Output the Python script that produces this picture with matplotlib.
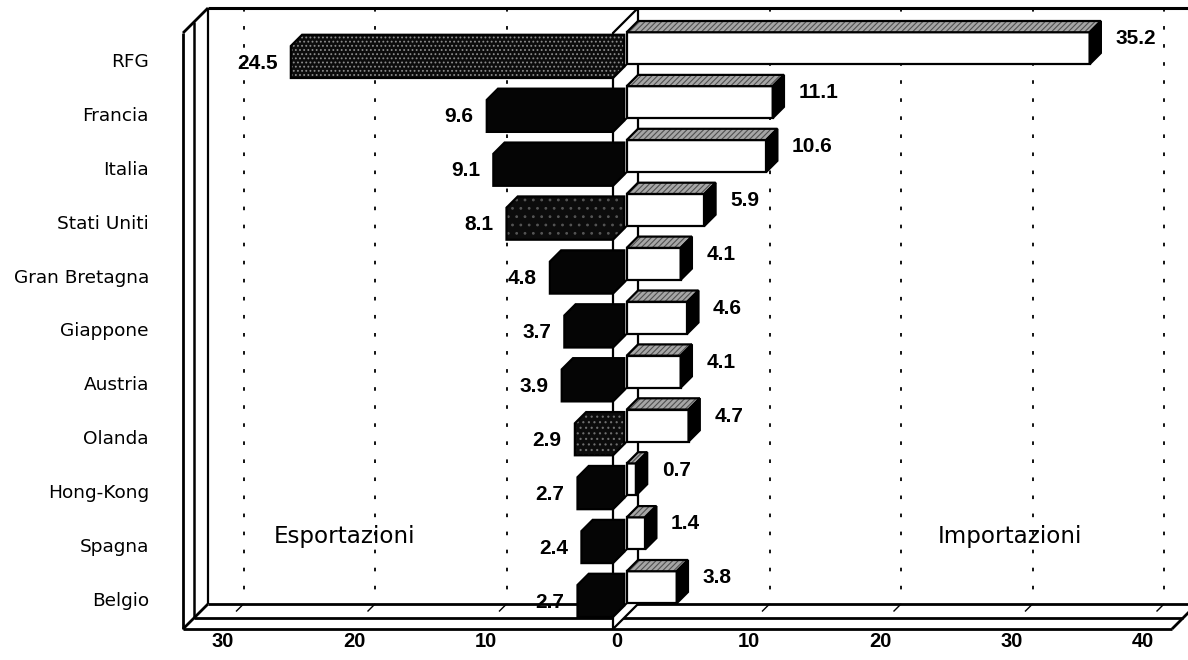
import matplotlib
matplotlib.use("Agg")
import matplotlib.pyplot as plt
from matplotlib.patches import Polygon

# --- data -------------------------------------------------------------
paesi = ["RFG", "Francia", "Italia", "Stati Uniti", "Gran Bretagna", "Giappone",
         "Austria", "Olanda", "Hong-Kong", "Spagna", "Belgio"]
esportazioni = [24.5, 9.6, 9.1, 8.1, 4.8, 3.7, 3.9, 2.9, 2.7, 2.4, 2.7]
importazioni = [35.2, 11.1, 10.6, 5.9, 4.1, 4.6, 4.1, 4.7, 0.7, 1.4, 3.8]
tick_valori = [-30, -20, -10, 0, 10, 20, 30, 40]
tick_etichette = ["30", "20", "10", "0", "10", "20", "30", "40"]

# --- geometry of the oblique 3D box -------------------------------------
W, H = 1188, 660
PX_UNIT = 13.15       # pixels per value unit
X0_PX = 613           # pixel of value 0 on the front plane
ROW0_PX, ROW_PX = 62, 53.9
DX = 25 / PX_UNIT     # depth shift (x) for full depth
DY = 25 / ROW_PX      # depth shift (rows) for full depth
BAR_H = 32 / ROW_PX
Z_EXP = 0.45          # export boxes: depth 0 .. Z_EXP
Z_IMP = 0.55          # import boxes: depth Z_IMP .. 1
X_LEFT = (183 - X0_PX) / PX_UNIT
X_RIGHT = (1172 - X0_PX) / PX_UNIT
Y_TOP = (33 - ROW0_PX) / ROW_PX
Y_FLOOR = (629 - ROW0_PX) / ROW_PX

LW = 1.6


def P(x, y, z):
    return (x + z * DX, y - z * DY)


def poly(ax, pts, fc, ec="black", lw=LW, hatch=None, hc=None, z=3):
    xy = [P(*p) for p in pts]
    if hatch:
        ax.add_patch(Polygon(xy, closed=True, facecolor=fc, edgecolor=hc,
                             linewidth=0, hatch=hatch, zorder=z))
        ax.add_patch(Polygon(xy, closed=True, facecolor="none", edgecolor=ec,
                             linewidth=lw, zorder=z, joinstyle="miter"))
    else:
        ax.add_patch(Polygon(xy, closed=True, facecolor=fc, edgecolor=ec,
                             linewidth=lw, zorder=z, joinstyle="miter"))


def line(ax, a, b, lw=LW, z=2, **kw):
    pa, pb = P(*a), P(*b)
    ax.plot([pa[0], pb[0]], [pa[1], pb[1]], color="black", lw=lw, zorder=z,
            solid_capstyle="butt", **kw)


plt.rcParams["hatch.linewidth"] = 0.8
fig = plt.figure(figsize=(W / 100, H / 100), dpi=100)
ax = fig.add_axes([0, 0, 1, 1])
ax.set_xlim(-X0_PX / PX_UNIT, (W - X0_PX) / PX_UNIT)
ax.set_ylim((H - ROW0_PX) / ROW_PX, -ROW0_PX / ROW_PX)
ax.axis("off")

# back-wall grid
for v in tick_valori:
    if v == 0:
        continue
    a, b = P(v, Y_TOP, 1), P(v, Y_FLOOR, 1)
    ax.plot([a[0], b[0]], [a[1], b[1]], color="black", lw=1.3,
            linestyle=(0, (2, 8)), zorder=1)
    line(ax, (v, Y_FLOOR, 1), (v, Y_FLOOR, 0.7), lw=1.0, z=2)

# back wall top edge and left edge
line(ax, (X_LEFT, Y_TOP, 1), (X_RIGHT + 2, Y_TOP, 1), lw=2.2)
line(ax, (X_LEFT, Y_TOP, 1), (X_LEFT, Y_FLOOR, 1), lw=1.6)

# left wall
line(ax, (X_LEFT, Y_TOP, 0), (X_LEFT, Y_FLOOR, 0), lw=2.0)
line(ax, (X_LEFT, Y_TOP, Z_EXP), (X_LEFT, Y_FLOOR, Z_EXP), lw=1.8)
line(ax, (X_LEFT, Y_TOP, 0), (X_LEFT, Y_TOP, 1), lw=2.0)

# floor
for zz in (0, Z_EXP, 1):
    line(ax, (X_LEFT, Y_FLOOR, zz), (X_RIGHT, Y_FLOOR, zz), lw=2.0)
line(ax, (X_LEFT, Y_FLOOR, 0), (X_LEFT, Y_FLOOR, 1), lw=2.0)
line(ax, (X_RIGHT, Y_FLOOR, 0), (X_RIGHT, Y_FLOOR, 1), lw=2.0)

# dividing wall at zero
poly(ax, [(0, Y_TOP, 0), (0, Y_TOP, 1), (0, Y_FLOOR, 1), (0, Y_FLOOR, 0)],
     fc="white", lw=1.6, z=2.5)

# export bars with a grainy finish
speckled = {0: ("....", "#8c8c8c"), 3: ("..", "#555555"), 7: ("...", "#707070")}

for i, (ve, vi) in enumerate(zip(esportazioni, importazioni)):
    yt, yb = i - BAR_H / 2, i + BAR_H / 2

    # imports: white front, dithered top, black side
    poly(ax, [(0, yt, Z_IMP), (vi, yt, Z_IMP), (vi, yb, Z_IMP), (0, yb, Z_IMP)],
         fc="white", z=4)
    poly(ax, [(0, yt, Z_IMP), (vi, yt, Z_IMP), (vi, yt, 1), (0, yt, 1)],
         fc="#a6a6a6", hatch="//////", hc="#505050", z=4)
    poly(ax, [(vi, yt, Z_IMP), (vi, yt, 1), (vi, yb, 1), (vi, yb, Z_IMP)],
         fc="black", z=4)

    # exports: solid dark box with front and top faces
    pts = [(-ve, yb, 0), (-ve, yt, 0), (-ve, yt, Z_EXP), (0, yt, Z_EXP),
           (0, yb, Z_EXP), (0, yb, 0)]
    if i in speckled:
        h, hc = speckled[i]
        poly(ax, pts, fc="#0c0c0c", hatch=h, hc=hc, z=5)
    else:
        poly(ax, pts, fc="#050505", z=5)
    line(ax, (0, yb, Z_EXP), (0, yb, Z_IMP), lw=1.4, z=4.5)

    # value labels
    ax.text(-ve - 1.0, i + 0.02, f"{ve:.1f}", ha="right", va="center",
            fontsize=15, fontweight="bold", family="Liberation Sans", zorder=6)
    ax.text(vi + 3.0, i - 0.43, f"{vi:.1f}", ha="left", va="center",
            fontsize=15, fontweight="bold", family="Liberation Sans", zorder=6)

    # category labels
    ax.text(-35.3, i, paesi[i], ha="right", va="center", fontsize=13.3,
            family="DejaVu Sans", zorder=6)

# axis labels along the front edge of the floor
for v, t in zip(tick_valori, tick_etichette):
    ax.text(v + 0.3, 10.76, t, ha="center", va="center", fontsize=14.5,
            fontweight="bold", family="Liberation Sans", zorder=6)

ax.text(-20.4, 8.8, "Esportazioni", ha="center", va="center", fontsize=16.6,
        family="DejaVu Sans", zorder=6)
ax.text(30.2, 8.8, "Importazioni", ha="center", va="center", fontsize=16.6,
        family="DejaVu Sans", zorder=6)

fig.savefig("out.png", dpi=100)
